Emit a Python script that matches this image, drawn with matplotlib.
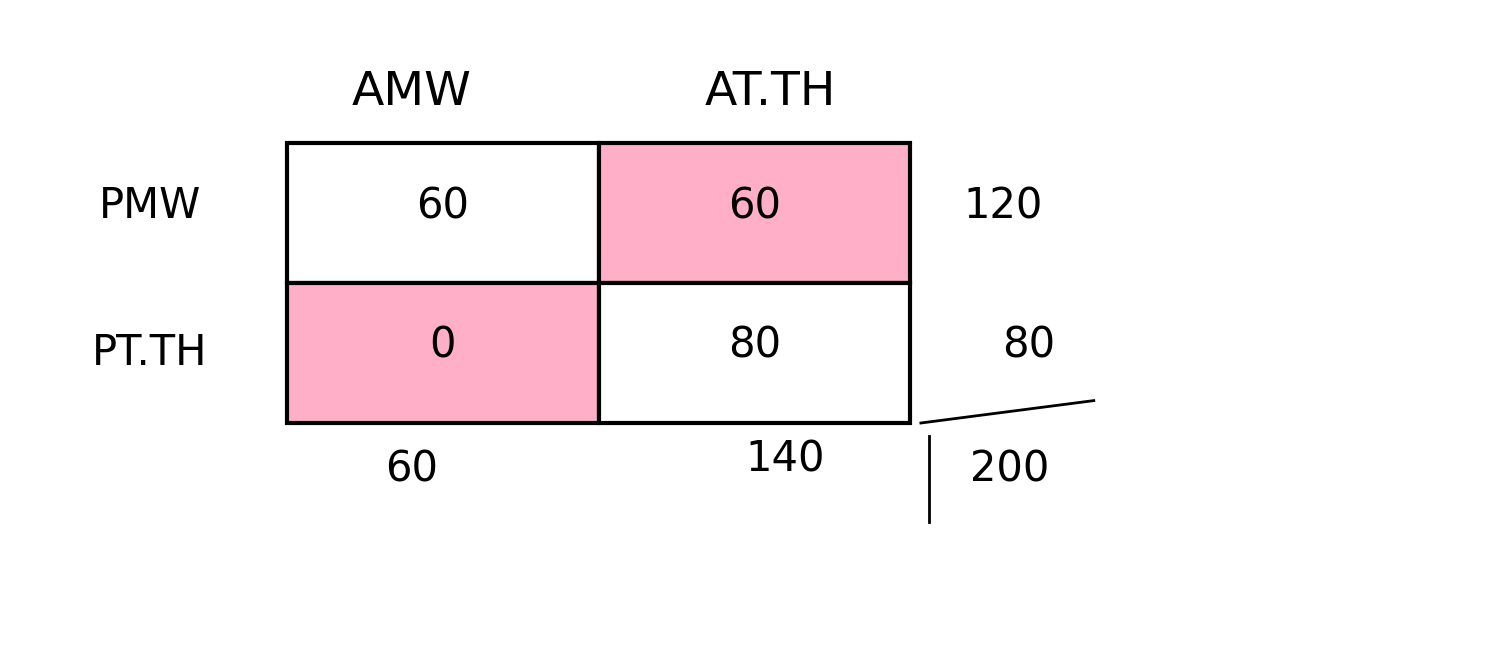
import matplotlib.pyplot as plt
import numpy as np
from matplotlib.patches import Rectangle

col_labels = ['AMW', 'AT.TH']
row_labels = ['PMW', 'PT.TH']
cells = np.array([[60, 60], [0, 80]])
highlight = np.array([[False, True], [True, False]])
row_totals = [120, 80]
col_totals = [60, 140]
grand_total = 200

pink = '#FFB0C8'

fig = plt.figure(figsize=(15.11, 6.61), dpi=100)
ax = fig.add_axes([287 / 1511, 1 - 423 / 661, 623 / 1511, 280 / 661])
ax.set_xlim(0, 2)
ax.set_ylim(2, 0)
ax.axis('off')

fs = 30
for i in range(2):
    for j in range(2):
        ax.add_patch(Rectangle((j, i), 1, 1, facecolor=pink if highlight[i, j] else 'white',
                               edgecolor='black', linewidth=3, clip_on=False))
        ax.text(j + 0.5, i + 0.45, str(cells[i, j]), ha='center', va='center', fontsize=fs)

for j, lab in enumerate(col_labels):
    ax.text(j + 0.4 + 0.15 * j, -0.36, lab, ha='center', va='center', fontsize=fs + 4)
for i, lab in enumerate(row_labels):
    ax.text(-0.44, i + 0.5 - 0.05 * (1 - i), lab, ha='center', va='center', fontsize=fs)

for i, t in enumerate(row_totals):
    ax.text(2.3 + 0.08 * i, i + 0.5 - 0.05, str(t), ha='center', va='center', fontsize=fs)
for j, t in enumerate(col_totals):
    ax.text(j + 0.4 + 0.2 * j, 2.33 - 0.07 * j, str(t), ha='center', va='center', fontsize=fs)
ax.text(2.32, 2.33, str(grand_total), ha='center', va='center', fontsize=fs)

ax.plot([2.035, 2.59], [2.0, 1.84], color='black', lw=2, clip_on=False)
ax.plot([2.06, 2.06], [2.09, 2.71], color='black', lw=2, clip_on=False)

fig.savefig('out.png', dpi=100, facecolor='white')
